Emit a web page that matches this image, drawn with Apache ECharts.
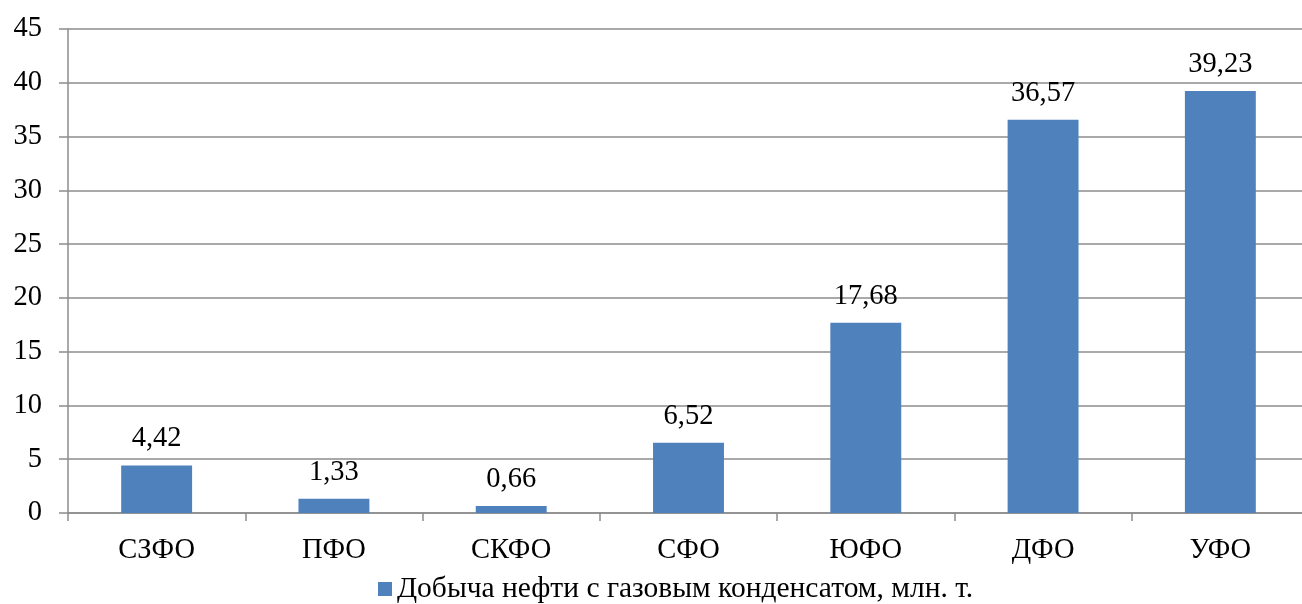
<!DOCTYPE html>
<html>
<head>
<meta charset="utf-8">
<script src="https://cdn.jsdelivr.net/npm/echarts@6/dist/echarts.min.js"></script>
<style>
  html, body { margin: 0; padding: 0; background: #fff; }
  #chart { width: 1302px; height: 604px; }
</style>
</head>
<body>
<div id="chart"></div>
<script>
// Federal districts and oil + gas condensate output, million tonnes
const categories = ['СЗФО', 'ПФО', 'СКФО', 'СФО', 'ЮФО', 'ДФО', 'УФО'];
const production = [4.42, 1.33, 0.66, 6.52, 17.68, 36.57, 39.23];
const seriesName = 'Добыча нефти с газовым конденсатом, млн. т.';
const yTicks = { min: 0, max: 45, step: 5 };

const FONT = '"Liberation Serif", "Times New Roman", serif';
const FONT_SIZE = 28.5;
const GRID_COLOR = '#8c8c8c';

const chart = echarts.init(document.getElementById('chart'), null, { renderer: 'canvas' });
chart.setOption({
  animation: false,
  backgroundColor: '#ffffff',
  // plot area runs slightly past the right edge of the canvas
  grid: {
    left: 68, width: 1241, top: 29, height: 484,
    containLabel: false,
    outerBoundsMode: 'none'
  },
  legend: {
    top: 569,
    left: 373,
    icon: 'rect',
    itemWidth: 14,
    itemHeight: 14,
    itemGap: 6,
    textStyle: { fontFamily: FONT, fontSize: 29.5, color: '#000' },
    data: [seriesName]
  },
  xAxis: {
    type: 'category',
    data: categories,
    axisLine: { lineStyle: { color: GRID_COLOR, width: 1.5 } },
    axisTick: { show: true, length: 8, inside: false, lineStyle: { color: GRID_COLOR, width: 1.5 } },
    axisLabel: { fontFamily: FONT, fontSize: FONT_SIZE, color: '#000', margin: 23 }
  },
  yAxis: {
    type: 'value',
    min: yTicks.min,
    max: yTicks.max,
    interval: yTicks.step,
    axisLine: { show: true, lineStyle: { color: GRID_COLOR, width: 1.5 } },
    axisTick: { show: true, length: 9, lineStyle: { color: GRID_COLOR, width: 1.5 } },
    axisLabel: { fontFamily: FONT, fontSize: FONT_SIZE, color: '#000', margin: 26, align: 'right' },
    splitLine: { show: true, lineStyle: { color: GRID_COLOR, width: 1.5 } }
  },
  series: [{
    name: seriesName,
    type: 'bar',
    data: production,
    barWidth: '40%',
    itemStyle: { color: '#4F81BD' },
    label: {
      show: true,
      position: 'top',
      distance: 12,
      fontFamily: FONT,
      fontSize: FONT_SIZE,
      color: '#000',
      formatter: p => p.value.toFixed(2).replace('.', ',')
    }
  }]
});
</script>
</body>
</html>
